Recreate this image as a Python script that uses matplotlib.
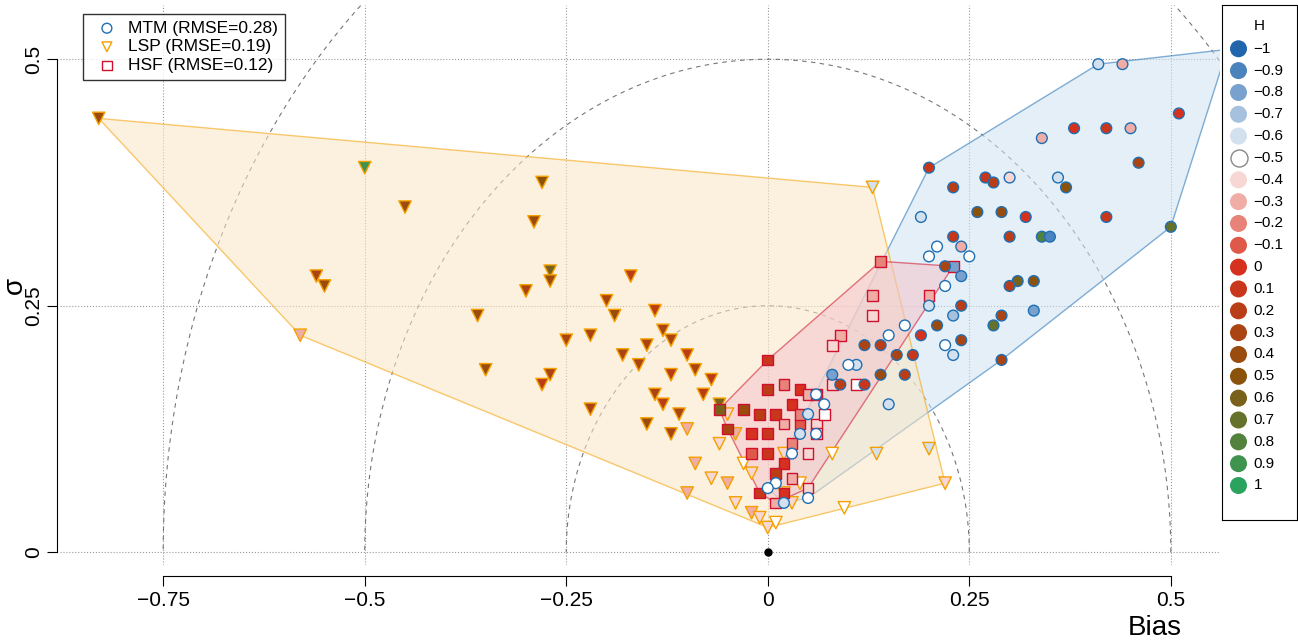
import numpy as np
import matplotlib
matplotlib.use("Agg")
import matplotlib.pyplot as plt
from matplotlib.colors import LinearSegmentedColormap
from matplotlib.patches import Polygon

plt.rcParams['font.family'] = ['Liberation Sans', 'DejaVu Sans']

# ---- data (Bias, sigma, H) ----
lsp_x = [-0.83,-0.58,0.13,0.22,0.0,0.095,-0.5,-0.45,-0.28,-0.29,-0.27,-0.27,-0.56,-0.55,-0.36,-0.3,-0.17,-0.2,-0.14,-0.13,
         -0.12,-0.19,-0.22,-0.25,-0.15,-0.1,-0.18,-0.16,-0.12,-0.09,-0.07,-0.35,-0.27,-0.28,-0.22,-0.14,-0.13,-0.11,-0.15,-0.12,
         -0.1,-0.06,-0.08,-0.05,-0.04,-0.06,-0.03,-0.02,-0.05,-0.1,-0.07,-0.04,-0.02,0.01,0.02,0.04,0.08,0.2,0.135,0.02,-0.09,-0.01,0.03]
lsp_y = [0.44,0.22,0.37,0.07,0.025,0.045,0.39,0.35,0.375,0.335,0.285,0.275,0.28,0.27,0.24,0.265,0.28,0.255,0.245,0.225,
         0.215,0.24,0.22,0.215,0.21,0.2,0.2,0.19,0.18,0.185,0.175,0.185,0.18,0.17,0.145,0.16,0.15,0.14,0.13,0.12,
         0.125,0.15,0.16,0.14,0.12,0.11,0.09,0.08,0.07,0.06,0.075,0.05,0.04,0.03,0.06,0.07,0.1,0.105,0.1,0.1,0.09,0.035,0.05]
lsp_h = [0.4,-0.3,-0.6,-0.4,-0.4,-0.5,0.9,0.4,0.5,0.4,0.6,0.4,0.3,0.4,0.4,0.3,0.2,0.3,0.2,0.3,
         0.3,0.4,0.3,0.3,0.3,0.2,0.3,0.3,0.2,0.3,0.2,0.4,0.3,0.2,0.3,0.3,0.2,0.3,0.4,0.3,
         -0.3,0.6,0.2,-0.4,-0.3,-0.4,-0.5,-0.4,-0.3,-0.3,-0.4,-0.4,-0.3,-0.5,-0.4,-0.5,-0.5,-0.6,-0.6,-0.4,-0.3,-0.4,-0.4]

mtm_x = [0.41,0.57,0.5,0.29,0.05,0.2,0.23,0.27,0.28,0.3,0.38,0.42,0.45,0.46,0.51,0.42,0.36,0.37,0.34,0.44,
         0.32,0.29,0.26,0.3,0.34,0.35,0.33,0.31,0.3,0.33,0.29,0.28,0.25,0.23,0.24,0.21,0.2,0.19,0.22,0.24,
         0.22,0.2,0.24,0.23,0.21,0.22,0.24,0.23,0.18,0.19,0.17,0.15,0.14,0.12,0.11,0.14,0.15,0.17,0.1,0.08,
         0.06,0.05,0.03,0.01,0.02,0.0,0.12,0.09,0.06,0.04,0.07,0.16]
mtm_y = [0.495,0.51,0.33,0.195,0.055,0.39,0.37,0.38,0.375,0.38,0.43,0.43,0.43,0.395,0.445,0.34,0.38,0.37,0.42,0.495,
         0.34,0.345,0.345,0.32,0.32,0.32,0.275,0.275,0.27,0.245,0.24,0.23,0.3,0.32,0.31,0.31,0.3,0.34,0.29,0.28,
         0.27,0.25,0.25,0.24,0.23,0.21,0.215,0.2,0.2,0.22,0.23,0.22,0.21,0.21,0.19,0.18,0.15,0.18,0.19,0.18,
         0.16,0.14,0.1,0.07,0.05,0.065,0.17,0.17,0.12,0.12,0.15,0.2]
mtm_h = [-0.6,-0.8,0.7,0.3,-0.5,0.1,0.2,0.1,0.2,-0.4,0.0,0.1,-0.3,0.3,0.0,0.1,-0.6,0.5,-0.3,-0.3,
         0.0,0.4,0.5,0.2,0.8,-0.9,0.5,0.6,0.2,-0.8,0.3,0.7,-0.5,0.1,-0.3,-0.5,-0.5,-0.6,0.3,-0.8,
         -0.5,-0.6,0.2,-0.7,0.4,-0.5,0.3,-0.6,0.1,0.0,-0.5,-0.5,0.2,0.3,-0.6,0.4,-0.6,0.2,-0.5,-0.8,
         -0.5,-0.6,-0.5,-0.5,-0.6,-0.5,0.1,0.2,-0.5,-0.6,-0.5,0.3]

hsf_x = [0.14,0.13,0.13,0.09,0.08,0.0,0.0,0.02,0.04,0.05,0.06,0.08,0.11,0.03,0.01,-0.01,0.02,0.04,0.06,-0.03,
         -0.06,-0.05,-0.02,0.0,0.03,0.05,0.02,0.0,-0.02,0.01,0.03,0.05,0.01,0.02,-0.01,0.04,0.07,0.06,0.23,0.2]
hsf_y = [0.295,0.26,0.24,0.22,0.21,0.195,0.165,0.17,0.165,0.16,0.16,0.17,0.17,0.15,0.14,0.14,0.13,0.13,0.13,0.145,
         0.145,0.125,0.12,0.12,0.11,0.1,0.09,0.1,0.1,0.08,0.075,0.065,0.05,0.06,0.06,0.14,0.14,0.12,0.29,0.26]
hsf_h = [-0.2,-0.3,-0.4,-0.3,-0.4,0.1,0.2,-0.2,0.0,-0.3,0.1,-0.4,-0.5,0.0,0.1,0.2,-0.3,-0.1,-0.4,0.4,
         0.6,0.3,0.0,0.1,-0.2,-0.4,0.0,0.1,-0.1,0.2,-0.3,-0.4,-0.3,0.0,0.1,-0.2,-0.5,-0.4,-0.8,-0.3]

models = [("MTM", 0.28, mtm_x, mtm_y, mtm_h, "o", "#1f6fb4", "#cfe3f2"),
          ("LSP", 0.19, lsp_x, lsp_y, lsp_h, "v", "#f5a000", "#fbe6c4"),
          ("HSF", 0.12, hsf_x, hsf_y, hsf_h, "s", "#d0102c", "#f3c4cc")]

h_levels = [-1,-0.9,-0.8,-0.7,-0.6,-0.5,-0.4,-0.3,-0.2,-0.1,0,0.1,0.2,0.3,0.4,0.5,0.6,0.7,0.8,0.9,1]
cmap = LinearSegmentedColormap.from_list("h", [(0,"#2166ac"),(0.25,"#ffffff"),(0.5,"#d7301f"),
                                               (0.75,"#8c510a"),(1,"#2ca25f")])
def hc(h): return cmap((h+1)/2)

def hull(pts):
    pts = sorted(set(pts))
    def cross(o,a,b): return (a[0]-o[0])*(b[1]-o[1])-(a[1]-o[1])*(b[0]-o[0])
    lo, up = [], []
    for p in pts:
        while len(lo)>=2 and cross(lo[-2],lo[-1],p)<=0: lo.pop()
        lo.append(p)
    for p in reversed(pts):
        while len(up)>=2 and cross(up[-2],up[-1],p)<=0: up.pop()
        up.append(p)
    return lo[:-1]+up[:-1]

fig = plt.figure(figsize=(12.98,6.41), dpi=100)
ax = fig.add_axes([60/1298, 76/641, 1160/1298, 560/641])
ax.set_xlim(-0.878, 0.561); ax.set_ylim(-0.013, 0.555)

th = np.linspace(0, np.pi, 400)
for r in [0.25,0.5,0.75]:
    ax.plot(r*np.cos(th), r*np.sin(th), ls=(0,(4,4)), color="#777777", lw=0.8, zorder=1)
for v in [-0.75,-0.5,-0.25,0,0.25,0.5]:
    ax.axvline(v, ls=":", color="#999999", lw=0.8, zorder=0)
for v in [0,0.25,0.5]:
    ax.axhline(v, ls=":", color="#999999", lw=0.8, zorder=0)

for name, rm, xs, ys, hs, mk, ec, fc in models:
    hp = hull(list(zip(xs, ys)))
    ax.add_patch(Polygon(hp, closed=True, facecolor=fc, alpha=0.55, edgecolor=ec, lw=1, zorder=2))
for name, rm, xs, ys, hs, mk, ec, fc in [models[1], models[2], models[0]]:
    ax.scatter(xs, ys, marker=mk, s=80 if mk=="v" else 60, c=[hc(h) for h in hs],
               edgecolors=ec, linewidths=1.0, zorder=3)
ax.plot([0],[0],"o",color="black",ms=5,zorder=4)

hs_ = [ax.scatter([],[],marker=m[5],facecolors="none",edgecolors=m[6],s=50) for m in models]
leg = ax.legend(hs_, [f"{m[0]} (RMSE={m[1]:.2f})" for m in models], loc="upper left",
                bbox_to_anchor=(0.012,1.0), fontsize=12.5, frameon=True, fancybox=False,
                edgecolor="black", handletextpad=0.2, borderpad=0.4, labelspacing=0.2)
leg.get_frame().set_linewidth(1)

for s in ["top","right"]: ax.spines[s].set_visible(False)
ax.spines["bottom"].set_position(("outward", 8)); ax.spines["bottom"].set_bounds(-0.75,0.5)
ax.spines["left"].set_position(("outward", 2)); ax.spines["left"].set_bounds(0,0.5)
ax.set_xticks([-0.75,-0.5,-0.25,0,0.25,0.5]); ax.set_xticklabels(["−0.75","−0.5","−0.25","0","0.25","0.5"])
ax.set_yticks([0,0.25,0.5]); ax.set_yticklabels(["0","0.25","0.5"], rotation=90, va="center")
ax.tick_params(labelsize=15, length=7)
ax.set_ylabel("σ", fontsize=20)
ax.yaxis.set_label_coords(-0.028, 0.5)
fig.text(1155/1298, 1-628/641, "Bias", fontsize=20, ha="center", va="center")

lx = fig.add_axes([1222/1298, 1-520/641, 75/1298, 515/641])
lx.set_xlim(0,1); lx.set_ylim(0,1); lx.set_xticks([]); lx.set_yticks([])
lx.text(0.5, 0.96, "H", ha="center", va="center", fontsize=11)
for i, h in enumerate(h_levels):
    yy = 0.915 - i*0.0424
    lx.scatter([0.22],[yy], s=150, color=hc(h), edgecolors="#888888" if abs(h+0.5)<0.05 else "none", zorder=3)
    lx.text(0.42, yy, ("−" if h<0 else "")+f"{abs(h):g}", va="center", fontsize=11)

fig.savefig("out.png", dpi=100)
